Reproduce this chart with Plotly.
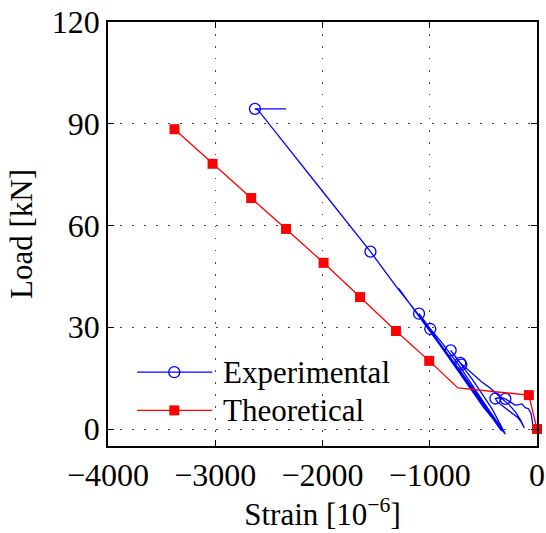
import plotly.graph_objects as go

# Theoretical load-strain response
theo_strain = [-3380, -3025, -2665, -2340, -1990, -1650, -1315, -1005, -737, -76, 0]
theo_load = [88.4, 78.2, 68.1, 59.0, 49.0, 38.9, 28.9, 20.1, 12.1, 10.0, 0.0]
theo_marker_strain = [-3380, -3025, -2665, -2340, -1990, -1650, -1315, -1005, -76, 0]
theo_marker_load = [88.4, 78.2, 68.1, 59.0, 49.0, 38.9, 28.9, 20.1, 10.0, 0.0]

# Measured load-strain history (cyclic loading, then loading to failure)
exp_strain = [
    -30, -40, -55, -80, -110, -140, -165, -200, -240, -295, -340, -388,
    -370, -320, -270, -220, -180, -150, -130, -118,
    -150, -200, -260, -330, -435, -520, -600, -705, -715, -805,
    -600, -420, -300,
    -500, -720, -900, -995, -1100,
    -800, -520, -330,
    -700, -1050, -1290,
    -900, -500, -295,
    -700, -1100, -1300, -1553, -2000, -2300, -2600, -2630, -2340,
]
exp_load = [
    -0.5, 2.0, 4.5, 6.0, 6.3, 7.4, 7.2, 7.0, 7.8, 8.9, 9.3, 9.0,
    8.0, 6.8, 5.6, 4.5, 3.4, 2.2, 1.0, 0.3,
    2.5, 5.0, 7.2, 9.0, 12.0, 14.0, 16.2, 19.0, 19.5, 23.2,
    14.5, 6.0, -1.2,
    8.0, 18.5, 26.0, 29.5, 34.0,
    20.5, 8.0, -0.6,
    16.0, 31.0, 41.5,
    24.5, 6.5, -1.5,
    16.5, 33.5, 41.5, 52.3, 70.1, 82.0, 94.0, 94.4, 94.4,
]
exp_marker_strain = [-2630, -1553, -1100, -995, -805, -715, -705, -388, -295]
exp_marker_load = [94.4, 52.3, 34.0, 29.5, 23.2, 19.5, 19.0, 9.0, 8.9]

x_ticks = [-4000, -3000, -2000, -1000, 0]
y_ticks = [0, 30, 60, 90, 120]

BLUE = "#0000ff"
RED = "#ff0000"
FONT = "Liberation Serif, Times New Roman, serif"
FS_TICK = 32
FS_TEXT = 31

fig = go.Figure()

fig.add_trace(go.Scatter(
    x=exp_strain, y=exp_load, mode="lines",
    line=dict(color=BLUE, width=1.3), showlegend=False,
))
fig.add_trace(go.Scatter(
    x=exp_marker_strain, y=exp_marker_load, mode="markers",
    marker=dict(symbol="circle-open", size=11, color=BLUE, line=dict(width=1.3, color=BLUE)),
    showlegend=False,
))
fig.add_trace(go.Scatter(
    x=theo_strain, y=theo_load, mode="lines",
    line=dict(color=RED, width=1.3), showlegend=False,
))
fig.add_trace(go.Scatter(
    x=theo_marker_strain, y=theo_marker_load, mode="markers",
    marker=dict(symbol="square", size=10, color=RED),
    showlegend=False, cliponaxis=False,
))

# Legend glyphs drawn on an overlay axis in unit coordinates
leg_x0, leg_x1, leg_xm = 0.068, 0.243, 0.1545
leg_y = [0.174, 0.084]
fig.add_trace(go.Scatter(
    x=[leg_x0, leg_x1], y=[leg_y[0], leg_y[0]], mode="lines",
    line=dict(color=BLUE, width=1.3), xaxis="x2", yaxis="y2", showlegend=False,
))
fig.add_trace(go.Scatter(
    x=[leg_xm], y=[leg_y[0]], mode="markers",
    marker=dict(symbol="circle-open", size=11, color=BLUE, line=dict(width=1.3, color=BLUE)),
    xaxis="x2", yaxis="y2", showlegend=False,
))
fig.add_trace(go.Scatter(
    x=[leg_x0, leg_x1], y=[leg_y[1], leg_y[1]], mode="lines",
    line=dict(color=RED, width=1.3), xaxis="x2", yaxis="y2", showlegend=False,
))
fig.add_trace(go.Scatter(
    x=[leg_xm], y=[leg_y[1]], mode="markers",
    marker=dict(symbol="square", size=10, color=RED),
    xaxis="x2", yaxis="y2", showlegend=False,
))

for label, yy in zip(["Experimental", "Theoretical"], leg_y):
    fig.add_annotation(
        x=0.263, y=yy, xref="x2", yref="y2", text=label, showarrow=False,
        xanchor="left", yanchor="middle",
        font=dict(family=FONT, size=FS_TEXT, color="black"),
    )

axis_common = dict(
    showline=True, linecolor="black", linewidth=1.5, mirror="ticks",
    ticks="inside", ticklen=6, tickwidth=1, tickcolor="black",
    showgrid=True, gridcolor="#444444", gridwidth=1, griddash="1.5px,10.5px",
    zeroline=False, automargin=False,
    tickfont=dict(family=FONT, size=FS_TICK, color="black"),
)

fig.update_layout(
    width=546, height=533,
    margin=dict(l=108, r=9, t=22, b=87),
    paper_bgcolor="white", plot_bgcolor="white",
    showlegend=False,
    xaxis=dict(
        range=[-4000, 0], tickvals=x_ticks,
        ticktext=[("\u2212" + str(abs(v))) if v < 0 else str(v) for v in x_ticks],
        title=dict(text="Strain [10<sup>\u22126</sup>]", font=dict(family=FONT, size=FS_TEXT, color="black"), standoff=6),
        **axis_common,
    ),
    yaxis=dict(
        range=[-5, 120], tickvals=y_ticks,
        title=dict(text="Load [kN]", font=dict(family=FONT, size=FS_TEXT, color="black"), standoff=10),
        **axis_common,
    ),
    xaxis2=dict(range=[0, 1], overlaying="x", visible=False, domain=[0, 1], automargin=False),
    yaxis2=dict(range=[0, 1], overlaying="y", visible=False, automargin=False),
)

fig.write_html("out.html")
